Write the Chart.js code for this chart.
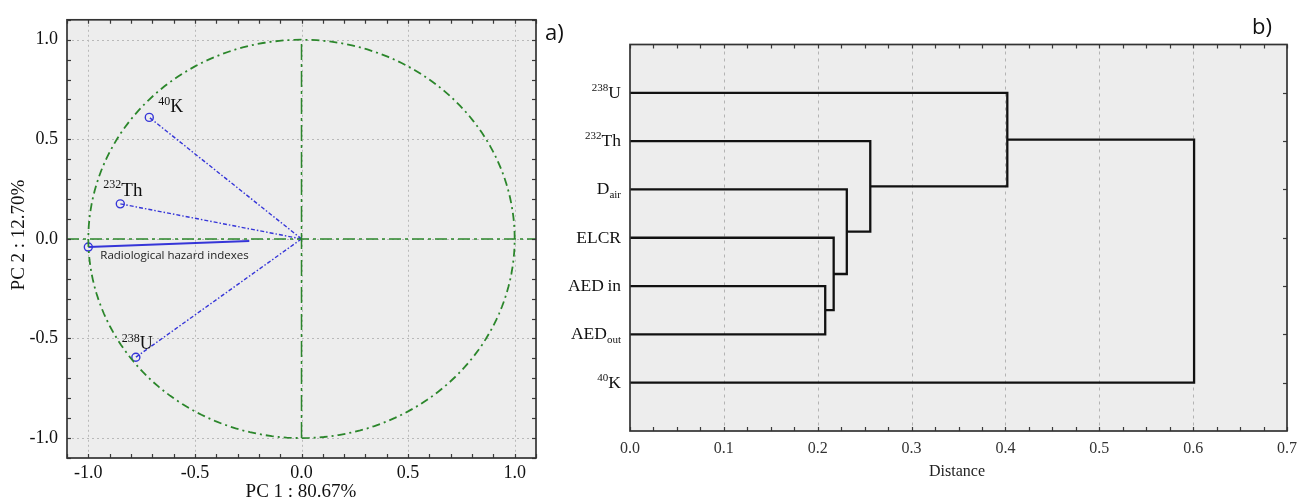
<!DOCTYPE html>
<html>
<head>
<meta charset="utf-8">
<script src="https://cdn.jsdelivr.net/npm/chart.js@4.4.1/dist/chart.umd.min.js"></script>
<style>
  html, body { margin: 0; padding: 0; background: #fff; }
  #wrap { position: relative; width: 1307px; height: 503px; overflow: hidden; }
  #pca { position: absolute; left: 0; top: 0; }
  #dendro { position: absolute; left: 560px; top: 0; }
</style>
</head>
<body>
<div id="wrap">
  <canvas id="pca" width="600" height="503"></canvas>
  <canvas id="dendro" width="747" height="503"></canvas>
</div>
<script>
// PCA loadings on PC1 / PC2
const pcaNames = ['40K', '232Th', '238U', 'Radiological hazard indexes'];
const pc1 = [-0.714, -0.850, -0.777, -1.000];
const pc2 = [0.610, 0.176, -0.594, -0.041];
// where the solid hazard-index line stops
const hazardEnd = [-0.245, -0.011];
const pcTicks = [-1.0, -0.5, 0.0, 0.5, 1.0];
const pc1Title = 'PC 1 : 80.67%';
const pc2Title = 'PC 2 : 12.70%';

// cluster tree, leaves from top to bottom
const leafNames = ['238U', '232Th', 'Dair', 'ELCR', 'AEDin', 'AEDout', '40K'];
// leaves are nodes 0..6, merge k creates node 7 + k
const mergePairs = [[4, 5], [3, 7], [2, 8], [1, 9], [0, 10], [11, 6]];
const mergeDist = [0.208, 0.217, 0.231, 0.256, 0.402, 0.601];
const distTicks = [0.0, 0.1, 0.2, 0.3, 0.4, 0.5, 0.6, 0.7];
const distTitle = 'Distance';

const SERIF = '"Liberation Serif", "Times New Roman", serif';
const SANS = '"Open Sans", "Noto Sans", sans-serif';
const GREEN = '#2b862b';
const BLUE = '#3535d8';

// split a name into normal / superscript / subscript pieces
function richParts(name) {
  if (name === 'Dair') return [{ t: 'D' }, { t: 'air', k: 'sub' }];
  if (name === 'AEDout') return [{ t: 'AED' }, { t: 'out', k: 'sub' }];
  if (name === 'AEDin') return [{ t: 'AED' }, { t: '\u2009in' }];
  const m = name.match(/^(\d+)(.+)$/);
  if (m) return [{ t: m[1], k: 'sup' }, { t: m[2] }];
  return [{ t: name }];
}

function drawRich(ctx, parts, x, y, align, size) {
  const small = Math.round(size * 0.64);
  const fontOf = p => (p.k ? small : size) + 'px ' + SERIF;
  let total = 0;
  parts.forEach(p => { ctx.font = fontOf(p); total += ctx.measureText(p.t).width; });
  let cx = align === 'right' ? x - total : x;
  ctx.textAlign = 'left';
  ctx.textBaseline = 'alphabetic';
  parts.forEach(p => {
    ctx.font = fontOf(p);
    let dy = 0;
    if (p.k === 'sup') dy = -size * 0.40;
    if (p.k === 'sub') dy = size * 0.18;
    ctx.fillText(p.t, cx, y + dy);
    cx += ctx.measureText(p.t).width;
  });
}

// plot background, dotted grid, frame with inward ticks, free text
const panelDecor = {
  id: 'panelDecor',
  beforeDraw(chart, args, o) {
    const a = chart.chartArea, ctx = chart.ctx;
    ctx.save();
    ctx.fillStyle = '#ededed';
    ctx.fillRect(a.left, a.top, a.right - a.left, a.bottom - a.top);
    ctx.restore();
  },
  beforeDatasetsDraw(chart, args, o) {
    const a = chart.chartArea, ctx = chart.ctx;
    const xs = chart.scales.x, ys = chart.scales.y;
    ctx.save();
    ctx.strokeStyle = o.gridColor;
    ctx.lineWidth = 1;
    ctx.setLineDash(o.gridDash);
    (o.gridX || []).forEach(v => {
      const px = Math.round(xs.getPixelForValue(v)) + 0.5;
      ctx.beginPath(); ctx.moveTo(px, a.top); ctx.lineTo(px, a.bottom); ctx.stroke();
    });
    (o.gridY || []).forEach(v => {
      const py = Math.round(ys.getPixelForValue(v)) + 0.5;
      ctx.beginPath(); ctx.moveTo(a.left, py); ctx.lineTo(a.right, py); ctx.stroke();
    });
    ctx.restore();
  },
  afterDatasetsDraw(chart, args, o) {
    const a = chart.chartArea, ctx = chart.ctx;
    const xs = chart.scales.x, ys = chart.scales.y;
    ctx.save();
    ctx.strokeStyle = '#3a3a3a';
    ctx.lineWidth = 1.2;
    const L = 4;
    (o.tickX || []).forEach(v => {
      const px = Math.round(xs.getPixelForValue(v)) + 0.5;
      ctx.beginPath();
      ctx.moveTo(px, a.top); ctx.lineTo(px, a.top + L);
      ctx.moveTo(px, a.bottom); ctx.lineTo(px, a.bottom - L);
      ctx.stroke();
    });
    (o.tickYLeft || []).forEach(v => {
      const py = Math.round(ys.getPixelForValue(v)) + 0.5;
      ctx.beginPath(); ctx.moveTo(a.left, py); ctx.lineTo(a.left + L, py); ctx.stroke();
    });
    (o.tickYRight || []).forEach(v => {
      const py = Math.round(ys.getPixelForValue(v)) + 0.5;
      ctx.beginPath(); ctx.moveTo(a.right, py); ctx.lineTo(a.right - L, py); ctx.stroke();
    });
    ctx.lineWidth = 1.7;
    ctx.strokeStyle = '#333';
    ctx.strokeRect(a.left, a.top, a.right - a.left, a.bottom - a.top);
    ctx.restore();
  },
  afterDraw(chart, args, o) {
    const ctx = chart.ctx;
    ctx.save();
    ctx.fillStyle = '#111';
    (o.texts || []).forEach(t => {
      ctx.save();
      ctx.translate(t.x, t.y);
      if (t.rotate) ctx.rotate(t.rotate);
      ctx.font = t.font;
      ctx.fillStyle = t.color || '#111';
      ctx.textAlign = t.align || 'center';
      ctx.textBaseline = 'middle';
      ctx.fillText(t.text, 0, 0);
      ctx.restore();
    });
    if (o.rich) o.rich(chart, ctx);
    ctx.restore();
  }
};

function every(lo, hi, step) {
  const out = [];
  for (let v = lo; v <= hi + 1e-9; v += step) out.push(+v.toFixed(4));
  return out;
}

// ---------- a) loading plot ----------
const circlePts = [];
for (let deg = 0; deg <= 360; deg += 2) {
  const r = deg * Math.PI / 180;
  circlePts.push({ x: Math.cos(r), y: Math.sin(r) });
}

const pcaSets = [
  { data: circlePts, borderColor: GREEN, borderWidth: 1.8, borderDash: [8, 4, 2, 4], pointRadius: 0 },
  { data: [{ x: -1.1, y: 0 }, { x: 1.1, y: 0 }], borderColor: GREEN, borderWidth: 1.5, borderDash: [12, 4, 3, 4], pointRadius: 0 },
  { data: [{ x: 0, y: -1 }, { x: 0, y: 1 }], borderColor: GREEN, borderWidth: 1.5, borderDash: [16, 4, 3, 4], pointRadius: 0 }
];
for (let i = 0; i < 3; i++) {
  pcaSets.push({
    data: [{ x: 0, y: 0 }, { x: pc1[i], y: pc2[i] }],
    borderColor: BLUE, borderWidth: 1.4, borderDash: [4, 2, 1.5, 2],
    pointRadius: [0, 4], pointBorderColor: BLUE, pointBorderWidth: 1.4,
    pointBackgroundColor: 'rgba(0,0,0,0)'
  });
}
pcaSets.push({
  data: [{ x: pc1[3], y: pc2[3] }, { x: hazardEnd[0], y: hazardEnd[1] }],
  borderColor: BLUE, borderWidth: 2,
  pointRadius: [4, 0], pointBorderColor: BLUE, pointBorderWidth: 1.4,
  pointBackgroundColor: 'rgba(0,0,0,0)'
});

// label offsets (px) from each loading point
const pcaLabelOffset = [[9, -5], [-17, -8], [-14, -8], [12, 9]];

new Chart(document.getElementById('pca'), {
  type: 'scatter',
  data: { datasets: pcaSets },
  options: {
    responsive: false,
    animation: false,
    events: [],
    showLine: true,
    layout: { padding: { top: 11, right: 64, left: 0, bottom: 0 } },
    scales: {
      x: {
        type: 'linear', min: -1.1, max: 1.1,
        afterBuildTicks: s => { s.ticks = pcTicks.map(v => ({ value: v })); },
        afterFit: s => { s.height = 45; },
        grid: { display: false, drawTicks: false },
        border: { display: false },
        ticks: { padding: 4, color: '#111', font: { family: SERIF, size: 18 }, callback: v => v.toFixed(1) }
      },
      y: {
        type: 'linear', min: -1.1, max: 1.1,
        afterBuildTicks: s => { s.ticks = pcTicks.map(v => ({ value: v })); },
        afterFit: s => { s.width = 67; },
        grid: { display: false, drawTicks: false },
        border: { display: false },
        ticks: { padding: 9, color: '#111', font: { family: SERIF, size: 18 }, callback: v => v.toFixed(1) }
      }
    },
    plugins: {
      legend: { display: false },
      tooltip: { enabled: false },
      panelDecor: {
        gridColor: '#b9b9b9', gridDash: [2, 3],
        gridX: pcTicks, gridY: pcTicks,
        tickX: every(-1.1, 1.1, 0.1), tickYLeft: every(-1.1, 1.1, 0.1), tickYRight: every(-1.1, 1.1, 0.1),
        texts: [
          { text: pc1Title, x: 301, y: 492, font: '19px ' + SERIF },
          { text: pc2Title, x: 19, y: 235, rotate: -Math.PI / 2, font: '19px ' + SERIF },
          { text: 'a)', x: 545, y: 34, align: 'left', font: '22px ' + SANS }
        ],
        rich(chart, ctx) {
          const xs = chart.scales.x, ys = chart.scales.y;
          for (let i = 0; i < 3; i++) {
            const px = xs.getPixelForValue(pc1[i]) + pcaLabelOffset[i][0];
            const py = ys.getPixelForValue(pc2[i]) + pcaLabelOffset[i][1];
            ctx.fillStyle = '#111';
            drawRich(ctx, richParts(pcaNames[i]), px, py, 'left', i === 1 ? 19 : 18);
          }
          ctx.font = '11.5px ' + SANS;
          ctx.fillStyle = '#222';
          ctx.textAlign = 'left';
          ctx.textBaseline = 'middle';
          ctx.fillText(pcaNames[3], xs.getPixelForValue(pc1[3]) + pcaLabelOffset[3][0],
            ys.getPixelForValue(pc2[3]) + pcaLabelOffset[3][1]);
        }
      }
    }
  },
  plugins: [panelDecor]
});

// ---------- b) dendrogram ----------
const nodeX = leafNames.map(() => 0);
const nodeY = leafNames.map((n, i) => i + 1);
const treeSets = [];
mergePairs.forEach(([a, b], k) => {
  const h = mergeDist[k];
  treeSets.push({
    data: [
      { x: nodeX[a], y: nodeY[a] }, { x: h, y: nodeY[a] },
      { x: h, y: nodeY[b] }, { x: nodeX[b], y: nodeY[b] }
    ],
    borderColor: '#111', borderWidth: 2.3, pointRadius: 0, borderJoinStyle: 'miter'
  });
  nodeX.push(h);
  nodeY.push((nodeY[a] + nodeY[b]) / 2);
});
const leafRows = leafNames.map((n, i) => i + 1);

new Chart(document.getElementById('dendro'), {
  type: 'scatter',
  data: { datasets: treeSets },
  options: {
    responsive: false,
    animation: false,
    events: [],
    showLine: true,
    layout: { padding: { top: 44.5, right: 20, left: 0, bottom: 0 } },
    scales: {
      x: {
        type: 'linear', min: 0, max: 0.7,
        afterBuildTicks: s => { s.ticks = distTicks.map(v => ({ value: v })); },
        afterFit: s => { s.height = 72; },
        grid: { display: false, drawTicks: false },
        border: { display: false },
        ticks: { padding: 8, color: '#333', font: { family: SERIF, size: 16 }, callback: v => v.toFixed(1) }
      },
      y: {
        type: 'linear', min: 0, max: leafNames.length + 1, reverse: true,
        afterFit: s => { s.width = 70; },
        grid: { display: false, drawTicks: false },
        border: { display: false },
        ticks: { display: false }
      }
    },
    plugins: {
      legend: { display: false },
      tooltip: { enabled: false },
      panelDecor: {
        gridColor: '#b3b3b3', gridDash: [3, 4],
        gridX: distTicks.slice(1, -1),
        tickX: every(0, 0.7, 0.025), tickYRight: leafRows,
        texts: [
          { text: distTitle, x: 397, y: 472, font: '16px ' + SERIF, color: '#222' },
          { text: 'b)', x: 692, y: 28, align: 'left', font: '22px ' + SANS }
        ],
        rich(chart, ctx) {
          const ys = chart.scales.y, a = chart.chartArea;
          ctx.fillStyle = '#111';
          leafNames.forEach((n, i) => {
            drawRich(ctx, richParts(n), a.left - 9, ys.getPixelForValue(leafRows[i]) + 5, 'right', 17.5);
          });
        }
      }
    }
  },
  plugins: [panelDecor]
});
</script>
</body>
</html>
